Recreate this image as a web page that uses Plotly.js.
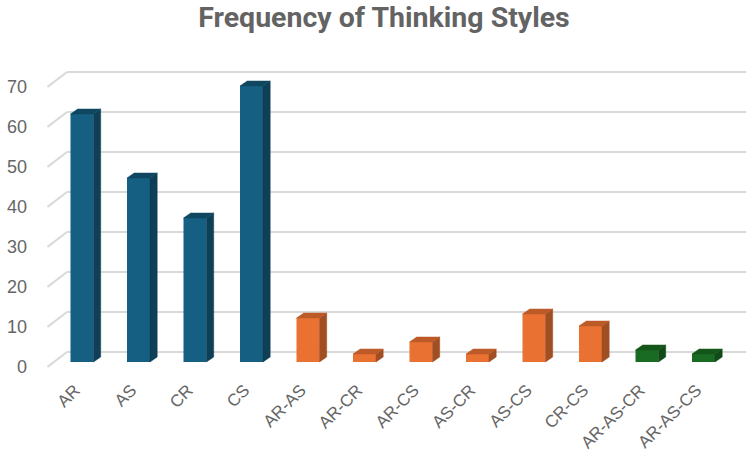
<!DOCTYPE html>
<html><head><meta charset="utf-8">
<script src="https://cdn.plot.ly/plotly-3.0.1.min.js"></script>
<style>html,body{margin:0;padding:0;background:#fff}#c{width:750px;height:457px}</style>
</head><body><div id="c"></div>
<script>
const categories = ['AR','AS','CR','CS','AR-AS','AR-CR','AR-CS','AS-CR','AS-CS','CR-CS','AR-AS-CR','AR-AS-CS'];
const values = [62,46,36,69,11,2,5,2,12,9,3,2];
const groupOf = [0,0,0,0,1,1,1,1,1,1,2,2];
const frontColors = ['#156082','#E97132','#196B24'];
const sideColors = ['#0E3F56','#A04E22','#114A19'];
const topColors = ['#0F4761','#BC5A28','#145519'];
const yTicks = [0,10,20,30,40,50,60,70];

const pxPerCat = 56.5, pxPerVal = 4;
const firstCenter = 82, baseline = 362, plotL = 47, plotR = 750, plotT = 60, plotB = 375;
const labelShift = 7;
const xOf = p => (p - firstCenter) / pxPerCat;
const barW = 23 / pxPerCat, dx = 7.2 / pxPerCat, dy = 5 / pxPerVal;

const traces = [];
[0,1,2].forEach(g => {
  const idx = values.map((v,i)=>i).filter(i => groupOf[i] === g);
  traces.push({type:'bar', x:idx, y:idx.map(i=>values[i]), width:barW,
    marker:{color:frontColors[g], line:{width:0}}, showlegend:false, hoverinfo:'x+y'});
  const sx=[], sy=[], tx=[], ty=[];
  idx.forEach(i => {
    const l=i-barW/2, r=i+barW/2, v=values[i];
    sx.push(r,r+dx,r+dx,r,r,null); sy.push(0,dy,v+dy,v,0,null);
    tx.push(l,l+dx,r+dx,r,l,null); ty.push(v,v+dy,v+dy,v,v,null);
  });
  traces.push({type:'scatter', mode:'lines', x:sx, y:sy, fill:'toself', fillcolor:sideColors[g],
    line:{width:0.5,color:sideColors[g]}, showlegend:false, hoverinfo:'skip'});
  traces.push({type:'scatter', mode:'lines', x:tx, y:ty, fill:'toself', fillcolor:topColors[g],
    line:{width:0.5,color:topColors[g]}, showlegend:false, hoverinfo:'skip'});
});
// invisible trace that binds the two label axes
traces.push({type:'scatter', mode:'markers', x:[0], y:[0], xaxis:'x2', yaxis:'y2', marker:{opacity:0}, showlegend:false, hoverinfo:'skip'});

const grid = {color:'#D9D9D9', width:2};
const wallBack = 10 / pxPerVal, wallFrontDrop = 5 / pxPerVal;
const shapes = [];
yTicks.forEach(v => {
  shapes.push({type:'line', layer:'below', xref:'x', yref:'y', x0:xOf(47.5), x1:xOf(67), y0:v-wallFrontDrop, y1:v+wallBack, line:grid});
  shapes.push({type:'line', layer:'below', xref:'x', yref:'y', x0:xOf(67), x1:xOf(746), y0:v+wallBack, y1:v+wallBack, line:grid});
});

const layout = {
  width:750, height:457, paper_bgcolor:'#fff', plot_bgcolor:'rgba(0,0,0,0)', showlegend:false, barmode:'overlay',
  margin:{l:plotL, r:750-plotR, t:plotT, b:457-plotB, pad:0},
  title:{text:'<b>Frequency of Thinking Styles</b>', x:0.512, xanchor:'center', y:0.962, yanchor:'middle',
    font:{family:'Roboto, "Liberation Sans", sans-serif', size:28.5, color:'#636363'}},
  xaxis:{range:[xOf(plotL),xOf(plotR)], showgrid:false, zeroline:false, showline:false, showticklabels:false, ticks:''},
  xaxis2:{range:[xOf(plotL+labelShift),xOf(plotR+labelShift)], overlaying:'x', side:'bottom', anchor:'y',
    tickmode:'array', tickvals:categories.map((c,i)=>i), ticktext:categories,
    tickangle:-45, showgrid:false, zeroline:false, showline:false, ticks:'', ticklabelstandoff:1,
    tickfont:{family:'"Liberation Sans", Arial, sans-serif', size:17, color:'#666666'}},
  yaxis:{range:[(baseline-plotB)/pxPerVal,(baseline-plotT)/pxPerVal], showgrid:false, zeroline:false, showline:false, showticklabels:false, ticks:''},
  yaxis2:{range:[(367-plotB)/pxPerVal,(367-plotT)/pxPerVal], overlaying:'y', side:'left', anchor:'x', tickmode:'array', tickvals:yTicks,
    showgrid:false, zeroline:false, showline:false, ticks:'', ticklabelstandoff:19,
    tickfont:{family:'"Liberation Sans", Arial, sans-serif', size:18, color:'#666666'}},
  shapes
};
Plotly.newPlot('c', traces, layout, {staticPlot:true, displayModeBar:false});
</script></body></html>
